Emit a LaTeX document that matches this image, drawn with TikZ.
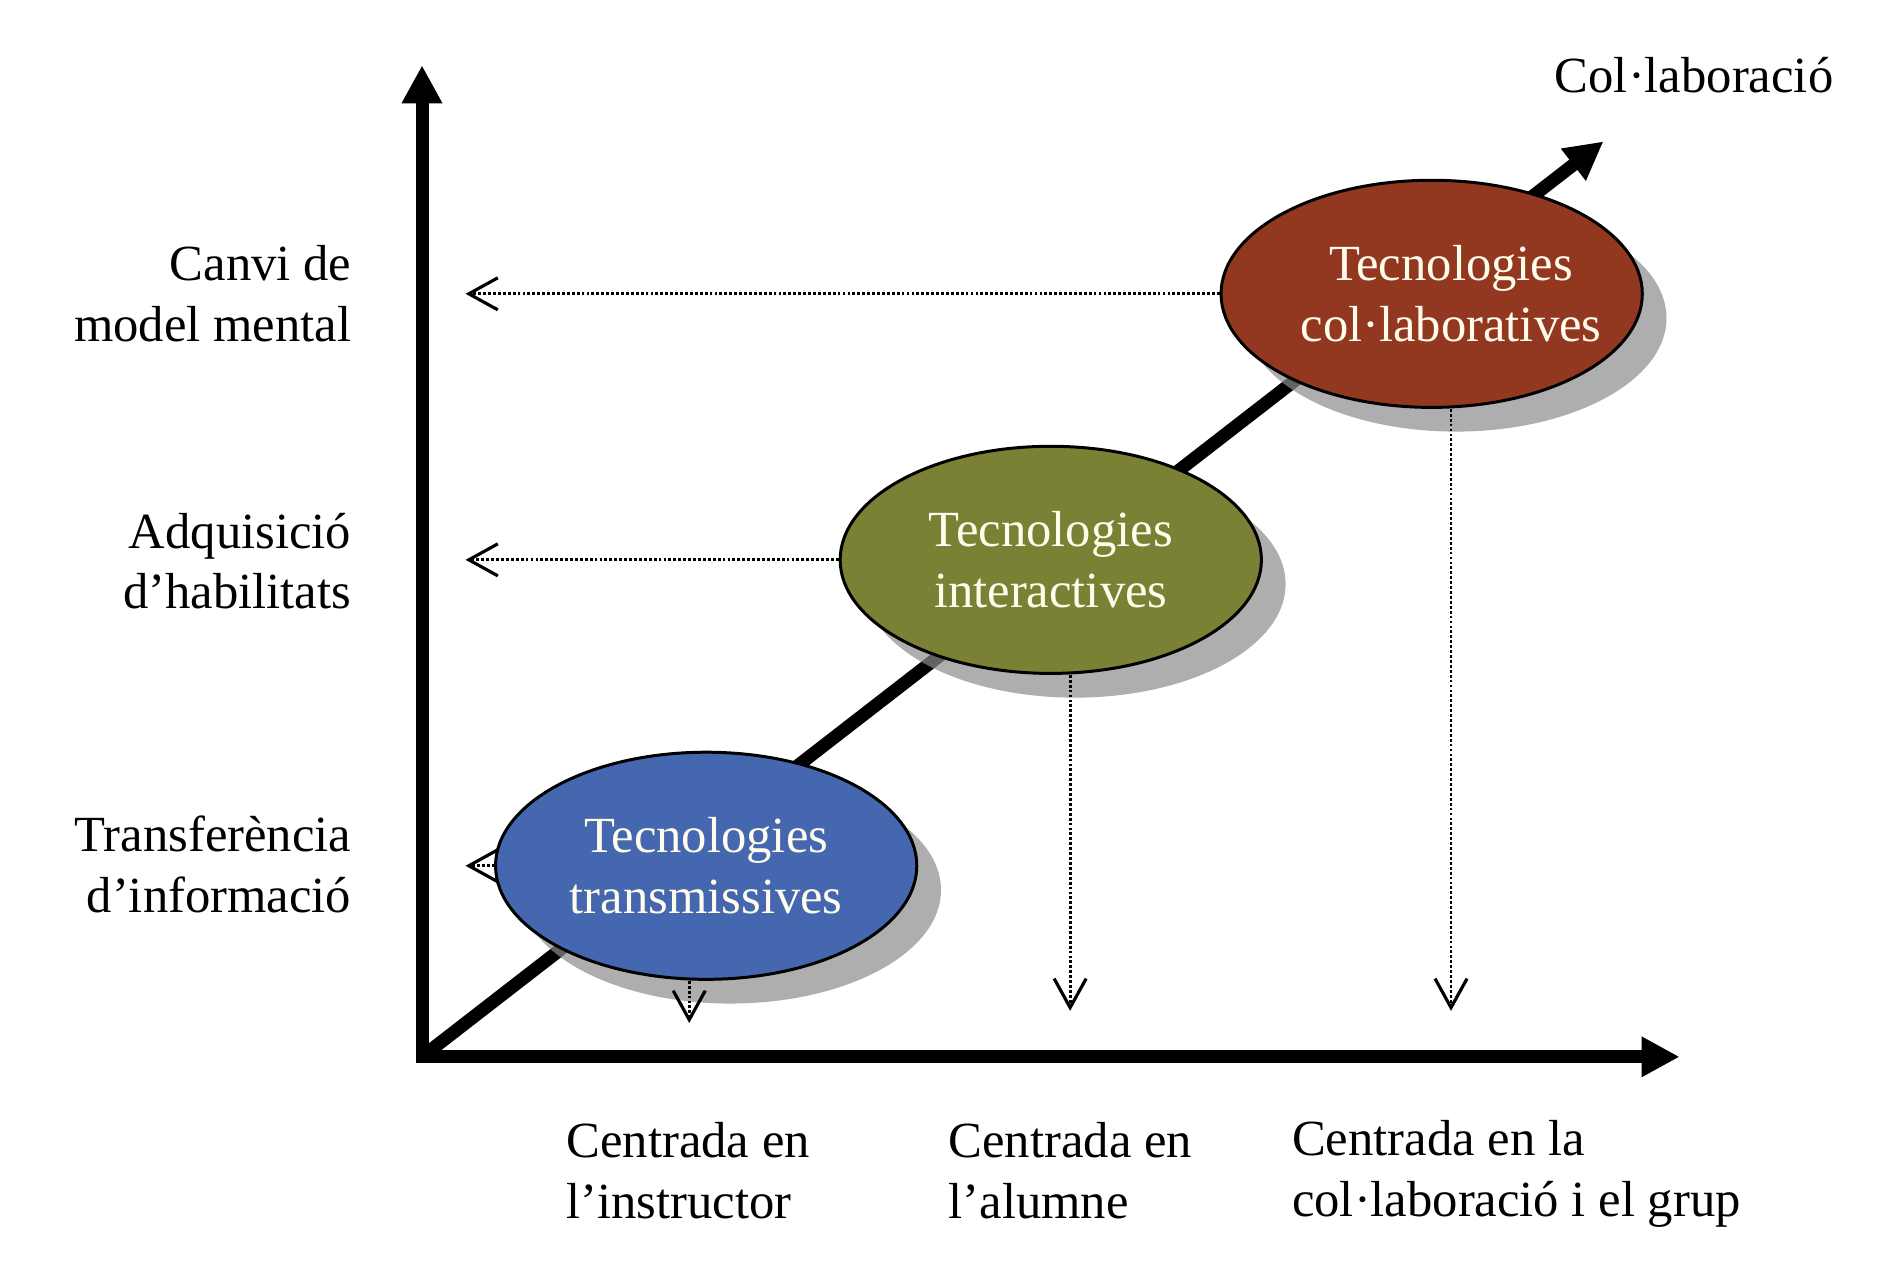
\documentclass[tikz,border=0pt]{standalone}
\usepackage{fontspec}
\setmainfont{Liberation Serif}
\usepackage{xcolor}
\usepackage{tikz}
\usetikzlibrary{arrows.meta,shapes.geometric,shadows,backgrounds}

\definecolor{techblue}{RGB}{68,103,176}
\definecolor{techolive}{RGB}{122,128,52}
\definecolor{techred}{RGB}{146,56,32}
\definecolor{techtext}{RGB}{255,252,236}

\begin{document}
\begin{tikzpicture}[x=0.012092cm,y=-0.012092cm,
  axis/.style={line width=3.7pt,line join=miter},
  tech/.style={ellipse,draw,line width=0.85pt,minimum width=4.21cm,minimum height=2.27cm,inner sep=0pt,align=center,text=techtext,font=\fontsize{14.4}{17.2}\selectfont,drop shadow={shadow xshift=0.242cm,shadow yshift=-0.242cm,fill=black!45,opacity=0.7}},
  techlbl/.style={inner sep=0pt,align=center,text=techtext,font=\fontsize{14.4}{17.2}\selectfont},
  guide/.style={line width=0.8pt,dash pattern=on 0.8pt off 0.6pt,-{Straight Barb[length=2.9mm,width=3.2mm,line width=0.9pt]}},
  lbl/.style={inner sep=0pt,font=\fontsize{14.4}{17.2}\selectfont}]
  \useasboundingbox (0,0) rectangle (1568,1049);
  \coordinate (org) at (349,874);
  \coordinate (ytop) at (349,54);
  \coordinate (xend) at (1389,874);
  \coordinate (dtip) at (1326,117);
  \draw[axis,{Triangle[length=3.8mm,width=3.8mm]}-{Triangle[length=3.8mm,width=3.8mm]}] (ytop) -- (org) -- (xend);
  \draw[axis,-{Triangle[length=3.8mm,width=3.8mm]}] (org) -- (dtip);
  \node[lbl] (colab) at (1401,62) {Col·laboració};
  % the three kinds of technology
  \node[tech,fill=techblue] (trans) at (584,716) {Tecnologies\\transmissives};
  \node[tech,fill=techolive] (inter) at (869,463) {Tecnologies\\interactives};
  \node[tech,fill=techred] (colt) at (1184,243) {};
  \node[techlbl] (coltxt) at ([xshift=0.193cm]colt.center) {Tecnologies\\col·laboratives};
  % left side levels
  \node[lbl,anchor=east,align=right] (lvl1) at (291,715) {Transferència\\d’informació};
  \node[lbl,anchor=east,align=right] (lvl2) at (291,464) {Adquisició\\d’habilitats};
  \node[lbl,anchor=east,align=right] (lvl3) at (291,243) {Canvi de\\model mental};
  % bottom labels
  \node[lbl,anchor=west,align=left] (ctr1) at (468,968) {Centrada en\\l’instructor};
  \node[lbl,anchor=west,align=left] (ctr2) at (784,968) {Centrada en\\l’alumne};
  \node[lbl,anchor=west,align=left] (ctr3) at (1068,971) {Centrada en la\\col·laboració i el grup};
  \coordinate (l1) at (385,716);
  \coordinate (l2) at (385,463);
  \coordinate (l3) at (385,243);
  \coordinate (d1) at (570,846);
  \coordinate (d2) at (885,836);
  \coordinate (d3) at (1200,836);
  \begin{pgfonlayer}{background}
    \draw[guide] ([xshift=0.3cm]trans.west) -- (l1);
  \end{pgfonlayer}
  \draw[guide] (inter.west) -- (l2);
  \draw[guide] (colt.west) -- (l3);
  \draw[guide] (trans.south -| d1) -- (d1);
  \draw[guide] (inter.south -| d2) -- (d2);
  \draw[guide] (colt.south -| d3) -- (d3);
\end{tikzpicture}
\end{document}
